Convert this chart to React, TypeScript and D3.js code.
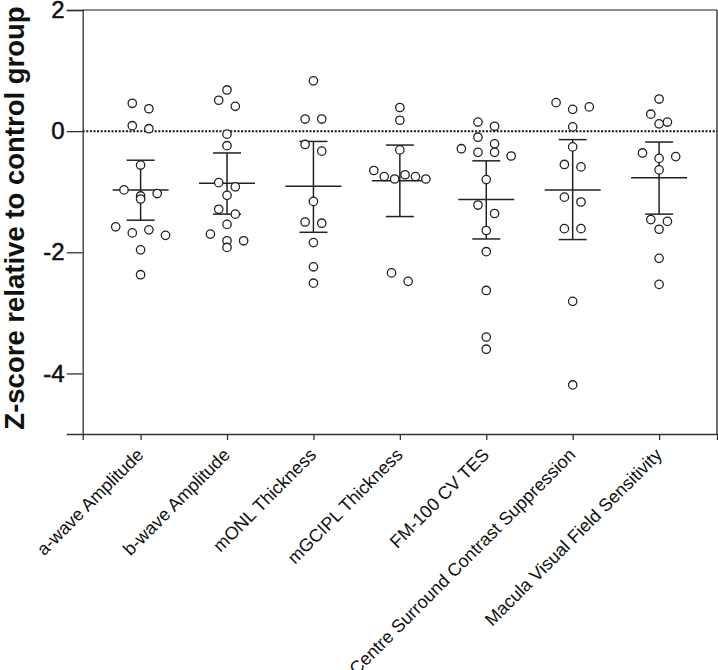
import React, { useEffect, useRef } from "react";
import * as d3 from "d3";

const categories = [
  "a-wave Amplitude",
  "b-wave Amplitude",
  "mONL Thickness",
  "mGCIPL Thickness",
  "FM-100 CV TES",
  "Centre Surround Contrast Suppression",
  "Macula Visual Field Sensitivity",
];

const aWave = [0.46, 0.37, 0.09, 0.04, -0.56, -0.97, -1.03, -1.07, -1.12, -1.58, -1.63, -1.68, -1.72, -1.96, -2.37];
const bWave = [0.68, 0.51, 0.41, -0.05, -0.24, -0.85, -0.92, -1.06, -1.29, -1.37, -1.54, -1.7, -1.81, -1.81, -1.92];
const mONL = [0.83, 0.2, 0.2, -0.22, -0.33, -1.16, -1.5, -1.52, -1.84, -2.24, -2.51];
const mGCIPL = [0.39, 0.18, -0.31, -0.65, -0.72, -0.75, -0.75, -0.79, -0.79, -2.34, -2.48];
const fm100 = [0.15, 0.08, -0.1, -0.21, -0.29, -0.35, -0.35, -0.41, -0.8, -1.22, -1.36, -1.64, -1.99, -2.63, -3.4, -3.6];
const centreSurround = [0.47, 0.4, 0.36, 0.07, -0.26, -0.55, -0.59, -1.09, -1.17, -1.61, -1.61, -2.81, -4.19];
const macula = [0.53, 0.28, 0.15, 0.12, -0.36, -0.42, -0.45, -0.64, -1.46, -1.49, -1.62, -2.1, -2.53];

const seriesValues = [aWave, bWave, mONL, mGCIPL, fm100, centreSurround, macula];

const means = [-0.97, -0.86, -0.91, -0.82, -1.13, -0.97, -0.77];
const ciLower = [-1.47, -1.37, -1.67, -1.41, -1.78, -1.79, -1.37];
const ciUpper = [-0.48, -0.36, -0.17, -0.23, -0.49, -0.14, -0.18];

const yTicks = [2, 0, -2, -4];
const yDomain = [-5, 2];

const W = 718;
const H = 670;
const FONT = "'Liberation Sans', Arial, Helvetica, sans-serif";

type P = { v: number; py: number; dx: number };

function swarm(values: number[], y: (v: number) => number, rowH: number, maxSpread: number, maxStep: number): P[] {
  const pts: P[] = values.map((v) => ({ v, py: y(v), dx: 0 }));
  const sorted = [...pts].sort((a, b) => a.py - b.py);
  let i = 0;
  while (i < sorted.length) {
    const row = [sorted[i]];
    let j = i + 1;
    while (j < sorted.length && sorted[j].py - sorted[i].py < rowH) {
      row.push(sorted[j]);
      j++;
    }
    const n = row.length;
    const step = n > 1 ? Math.min(maxStep, maxSpread / (n - 1)) : 0;
    const order = row.map((_, k) => k).sort((a, b) => (a % 2) - (b % 2) || a - b);
    order.forEach((k, idx) => {
      row[k].dx = (idx - (n - 1) / 2) * step;
    });
    i = j;
  }
  return sorted;
}

export default function App() {
  const ref = useRef<SVGSVGElement>(null);

  useEffect(() => {
    const svg = d3.select(ref.current);
    svg.selectAll("*").remove();

    const left = 82.7;
    const right = 717;
    const top = 10;
    const bottom = 434;

    const y = d3.scaleLinear().domain(yDomain).range([bottom, top]);
    const x = d3.scalePoint<string>().domain(categories).range([left, right]).padding(0.67);

    const ink = "#222";

    // frame (top & right)
    svg.append("line").attr("x1", left).attr("x2", right).attr("y1", top).attr("y2", top)
      .attr("stroke", "#666").attr("stroke-width", 1.3);
    svg.append("line").attr("x1", right).attr("x2", right).attr("y1", top).attr("y2", bottom)
      .attr("stroke", ink).attr("stroke-width", 1.3);

    // zero line
    svg.append("line").attr("x1", left).attr("x2", right).attr("y1", y(0)).attr("y2", y(0))
      .attr("stroke", "#111").attr("stroke-width", 2).attr("stroke-dasharray", "2 1.6");

    // y axis
    const gy = svg.append("g").attr("transform", `translate(${left},0)`)
      .call(d3.axisLeft(y).tickValues(yTicks).tickSize(16).tickPadding(2).tickFormat((d) => String(d)));
    gy.select(".domain").attr("stroke", "#333").attr("stroke-width", 1.3);
    gy.selectAll(".tick line").attr("stroke", "#333").attr("stroke-width", 1.3);
    gy.selectAll(".tick text")
      .attr("font-family", FONT)
      .attr("font-size", 24)
      .attr("fill", "#111")
      .attr("stroke", "#111")
      .attr("stroke-width", 0.5);

    // x axis
    const gx = svg.append("g").attr("transform", `translate(0,${bottom})`)
      .call(d3.axisBottom(x).tickSize(6).tickFormat(() => ""));
    gx.select(".domain").attr("stroke", "#333").attr("stroke-width", 1.3);
    gx.selectAll(".tick line").attr("stroke", "#333").attr("stroke-width", 1.3);

    // category labels
    svg.append("g").selectAll("text").data(categories).join("text")
      .attr("transform", (d) => `translate(${(x(d) as number) + 4},${bottom + 22}) rotate(-45)`)
      .attr("text-anchor", "end")
      .attr("font-family", FONT)
      .attr("font-size", 18)
      .attr("fill", "#111")
      .text((d) => d);

    // y title
    svg.append("text")
      .attr("transform", `translate(24,${(top + bottom) / 2 - 4}) rotate(-90)`)
      .attr("text-anchor", "middle")
      .attr("font-family", FONT)
      .attr("font-weight", "bold")
      .attr("font-size", 27.5)
      .attr("fill", "#111")
      .text("Z-score relative to control group");

    // error bars
    const bars = svg.append("g").attr("stroke", ink).attr("stroke-width", 1.5).attr("fill", "none");
    categories.forEach((c, i) => {
      const cx = x(c) as number;
      bars.append("line").attr("x1", cx).attr("x2", cx).attr("y1", y(ciUpper[i])).attr("y2", y(ciLower[i]));
      bars.append("line").attr("x1", cx - 14).attr("x2", cx + 14).attr("y1", y(ciUpper[i])).attr("y2", y(ciUpper[i]));
      bars.append("line").attr("x1", cx - 14).attr("x2", cx + 14).attr("y1", y(ciLower[i])).attr("y2", y(ciLower[i]));
      bars.append("line").attr("x1", cx - 28).attr("x2", cx + 28).attr("y1", y(means[i])).attr("y2", y(means[i]));
    });

    // dots
    const dots = svg.append("g");
    categories.forEach((c, i) => {
      const cx = x(c) as number;
      const pts = swarm(seriesValues[i], y, 9, 52, 16.6);
      dots.selectAll(null).data(pts).join("circle")
        .attr("cx", (p) => cx + p.dx)
        .attr("cy", (p) => p.py)
        .attr("r", 4.2)
        .attr("fill", "#fff")
        .attr("stroke", ink)
        .attr("stroke-width", 1.3);
    });
  }, []);

  return (
    <svg
      ref={ref}
      width={W}
      height={H}
      viewBox={`0 0 ${W} ${H}`}
      style={{ position: "absolute", left: 0, top: 0, background: "#fff" }}
    />
  );
}
